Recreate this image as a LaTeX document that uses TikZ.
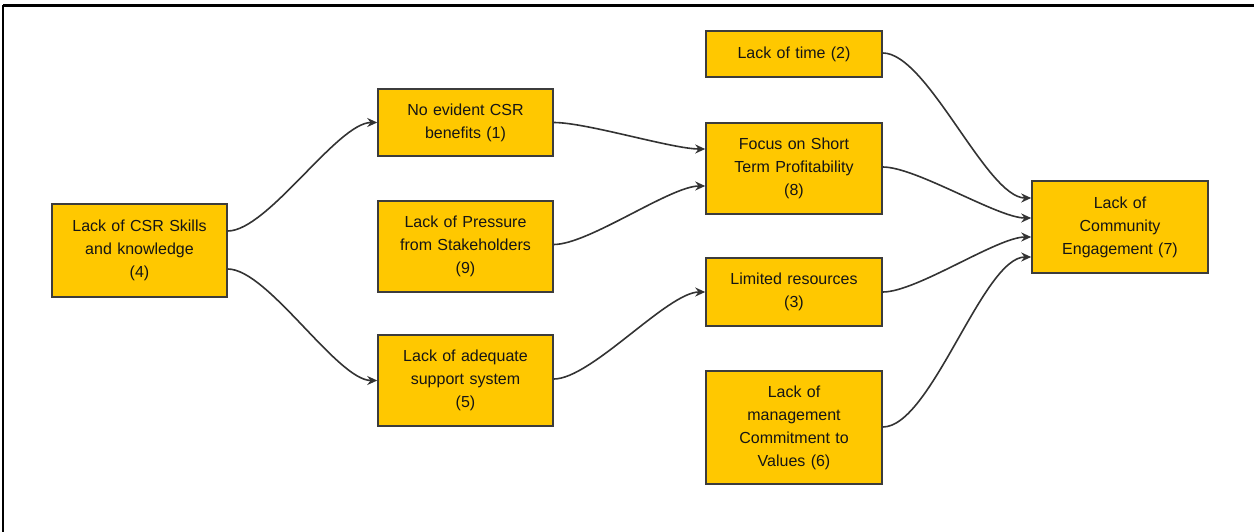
\documentclass[tikz,border=0pt]{standalone}
\usepackage{fontspec}
\setmainfont{Liberation Sans}
\usetikzlibrary{arrows.meta}
\definecolor{boxfill}{HTML}{FFC800}
\definecolor{boxline}{HTML}{3C3C3C}
\definecolor{edgeline}{HTML}{333333}
\definecolor{txt}{HTML}{151515}
\tikzset{
  cbox/.style={draw=boxline, line width=1.5pt, fill=boxfill, minimum width=175pt,
    inner sep=0pt, text width=168pt, align=center, text=txt,
    font=\fontsize{16}{23}\selectfont},
  link/.style={draw=edgeline, line width=1.6pt,
    -{Stealth[length=10pt,width=9pt]}, out=0, in=180, looseness=0.55},
  frameline/.style={draw=black}
}
\begin{document}
\begin{tikzpicture}[x=1pt,y=-1pt]
\useasboundingbox (0,0) rectangle (1254,532);
% frame
\draw[frameline, line width=2.5pt] (3,5.5) -- (1254,5.5);
\draw[frameline, line width=1.5pt] (3,5.5) -- (3,532);
% nodes
\node[cbox, minimum height=93pt] (csr) at (139.5,250.5) {Lack of CSR Skills\\and knowledge\\(4)};
\node[cbox, minimum height=67pt] (noev) at (465.5,122.5) {No evident CSR\\benefits (1)};
\node[cbox, minimum height=91pt] (press) at (465.5,246.5) {Lack of Pressure\\from Stakeholders\\(9)};
\node[cbox, minimum height=91pt] (adeq) at (465.5,380.5) {Lack of adequate\\support system\\(5)};
\node[cbox, minimum width=176pt, minimum height=46pt] (time) at (794,54) {Lack of time (2)};
\node[cbox, minimum width=176pt, minimum height=91pt] (focus) at (794,168.5) {Focus on Short\\Term Profitability\\(8)};
\node[cbox, minimum width=176pt, minimum height=68pt] (limit) at (794,292) {Limited resources\\(3)};
\node[cbox, minimum width=176pt, minimum height=113pt] (mgmt) at (794,427.5) {Lack of\\management\\Commitment to\\Values (6)};
\node[cbox, minimum width=176pt, minimum height=92pt] (comm) at (1120,227) {Lack of\\Community\\Engagement (7)};
% connectors
\draw[link] ([yshift=19.5pt]csr.east) to (noev.west);
\draw[link] ([yshift=-18.5pt]csr.east) to (adeq.west);
\draw[link] (noev.east) to ([yshift=19.5pt]focus.west);
\draw[link] ([yshift=2pt]press.east) to ([yshift=-17.5pt]focus.west);
\draw[link] ([yshift=1.5pt]adeq.east) to (limit.west);
\draw[link] ([yshift=1pt]time.east) to ([yshift=29pt]comm.west);
\draw[link] ([yshift=1.5pt]focus.east) to ([yshift=9pt]comm.west);
\draw[link] (limit.east) to ([yshift=-10pt]comm.west);
\draw[link] ([yshift=0.5pt]mgmt.east) to ([yshift=-30pt]comm.west);
\end{tikzpicture}
\end{document}
